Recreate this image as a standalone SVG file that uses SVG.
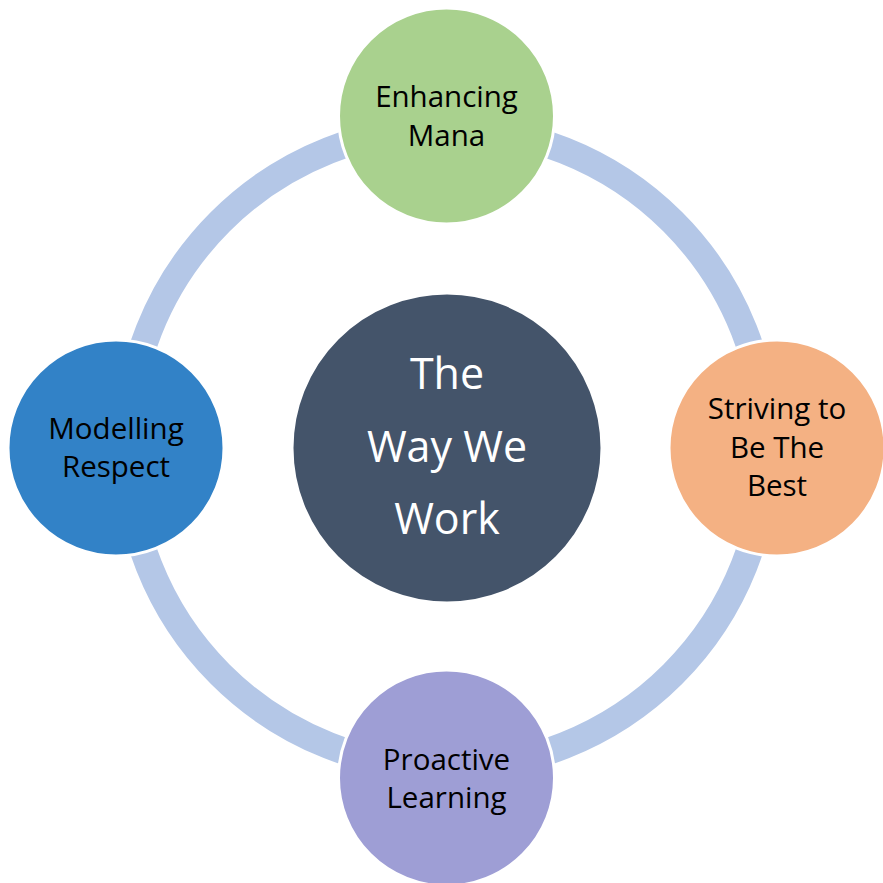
<svg xmlns="http://www.w3.org/2000/svg" width="883" height="883" viewBox="0 0 883 883">
<style>
.node{stroke:#ffffff;stroke-width:3}
.lbl{font-family:"Open Sans","Liberation Sans",sans-serif;font-size:29.5px;fill:#000000;text-anchor:middle}
.ctr{font-family:"Open Sans","Liberation Sans",sans-serif;font-size:43px;fill:#ffffff;text-anchor:middle}
</style>
<rect width="883" height="883" fill="#ffffff"/>
<g id="connectors">
<circle cx="446.5" cy="448" r="320" fill="none" stroke="#B4C7E7" stroke-width="27"/>
</g>
<g id="center">
<circle class="node" cx="447" cy="448" r="155" fill="#44546A"/>
<text class="ctr" x="447" y="389">The</text>
<text class="ctr" x="447" y="461.5">Way We</text>
<text class="ctr" x="447" y="533.5">Work</text>
</g>
<g id="enhancing-mana">
<circle class="node" cx="446.5" cy="116" r="108" fill="#A9D18E"/>
<text class="lbl" x="446.5" y="107">Enhancing</text>
<text class="lbl" x="446.5" y="146">Mana</text>
</g>
<g id="striving">
<circle class="node" cx="777" cy="448" r="108" fill="#F4B183"/>
<text class="lbl" x="777" y="419">Striving to</text>
<text class="lbl" x="777" y="458">Be The</text>
<text class="lbl" x="777" y="496">Best</text>
</g>
<g id="proactive-learning">
<circle class="node" cx="446.5" cy="778" r="108" fill="#9E9ED5"/>
<text class="lbl" x="446.5" y="770">Proactive</text>
<text class="lbl" x="446.5" y="808">Learning</text>
</g>
<g id="modelling-respect">
<circle class="node" cx="116" cy="448" r="108" fill="#3282C7"/>
<text class="lbl" x="116" y="439">Modelling</text>
<text class="lbl" x="116" y="477">Respect</text>
</g>
</svg>
